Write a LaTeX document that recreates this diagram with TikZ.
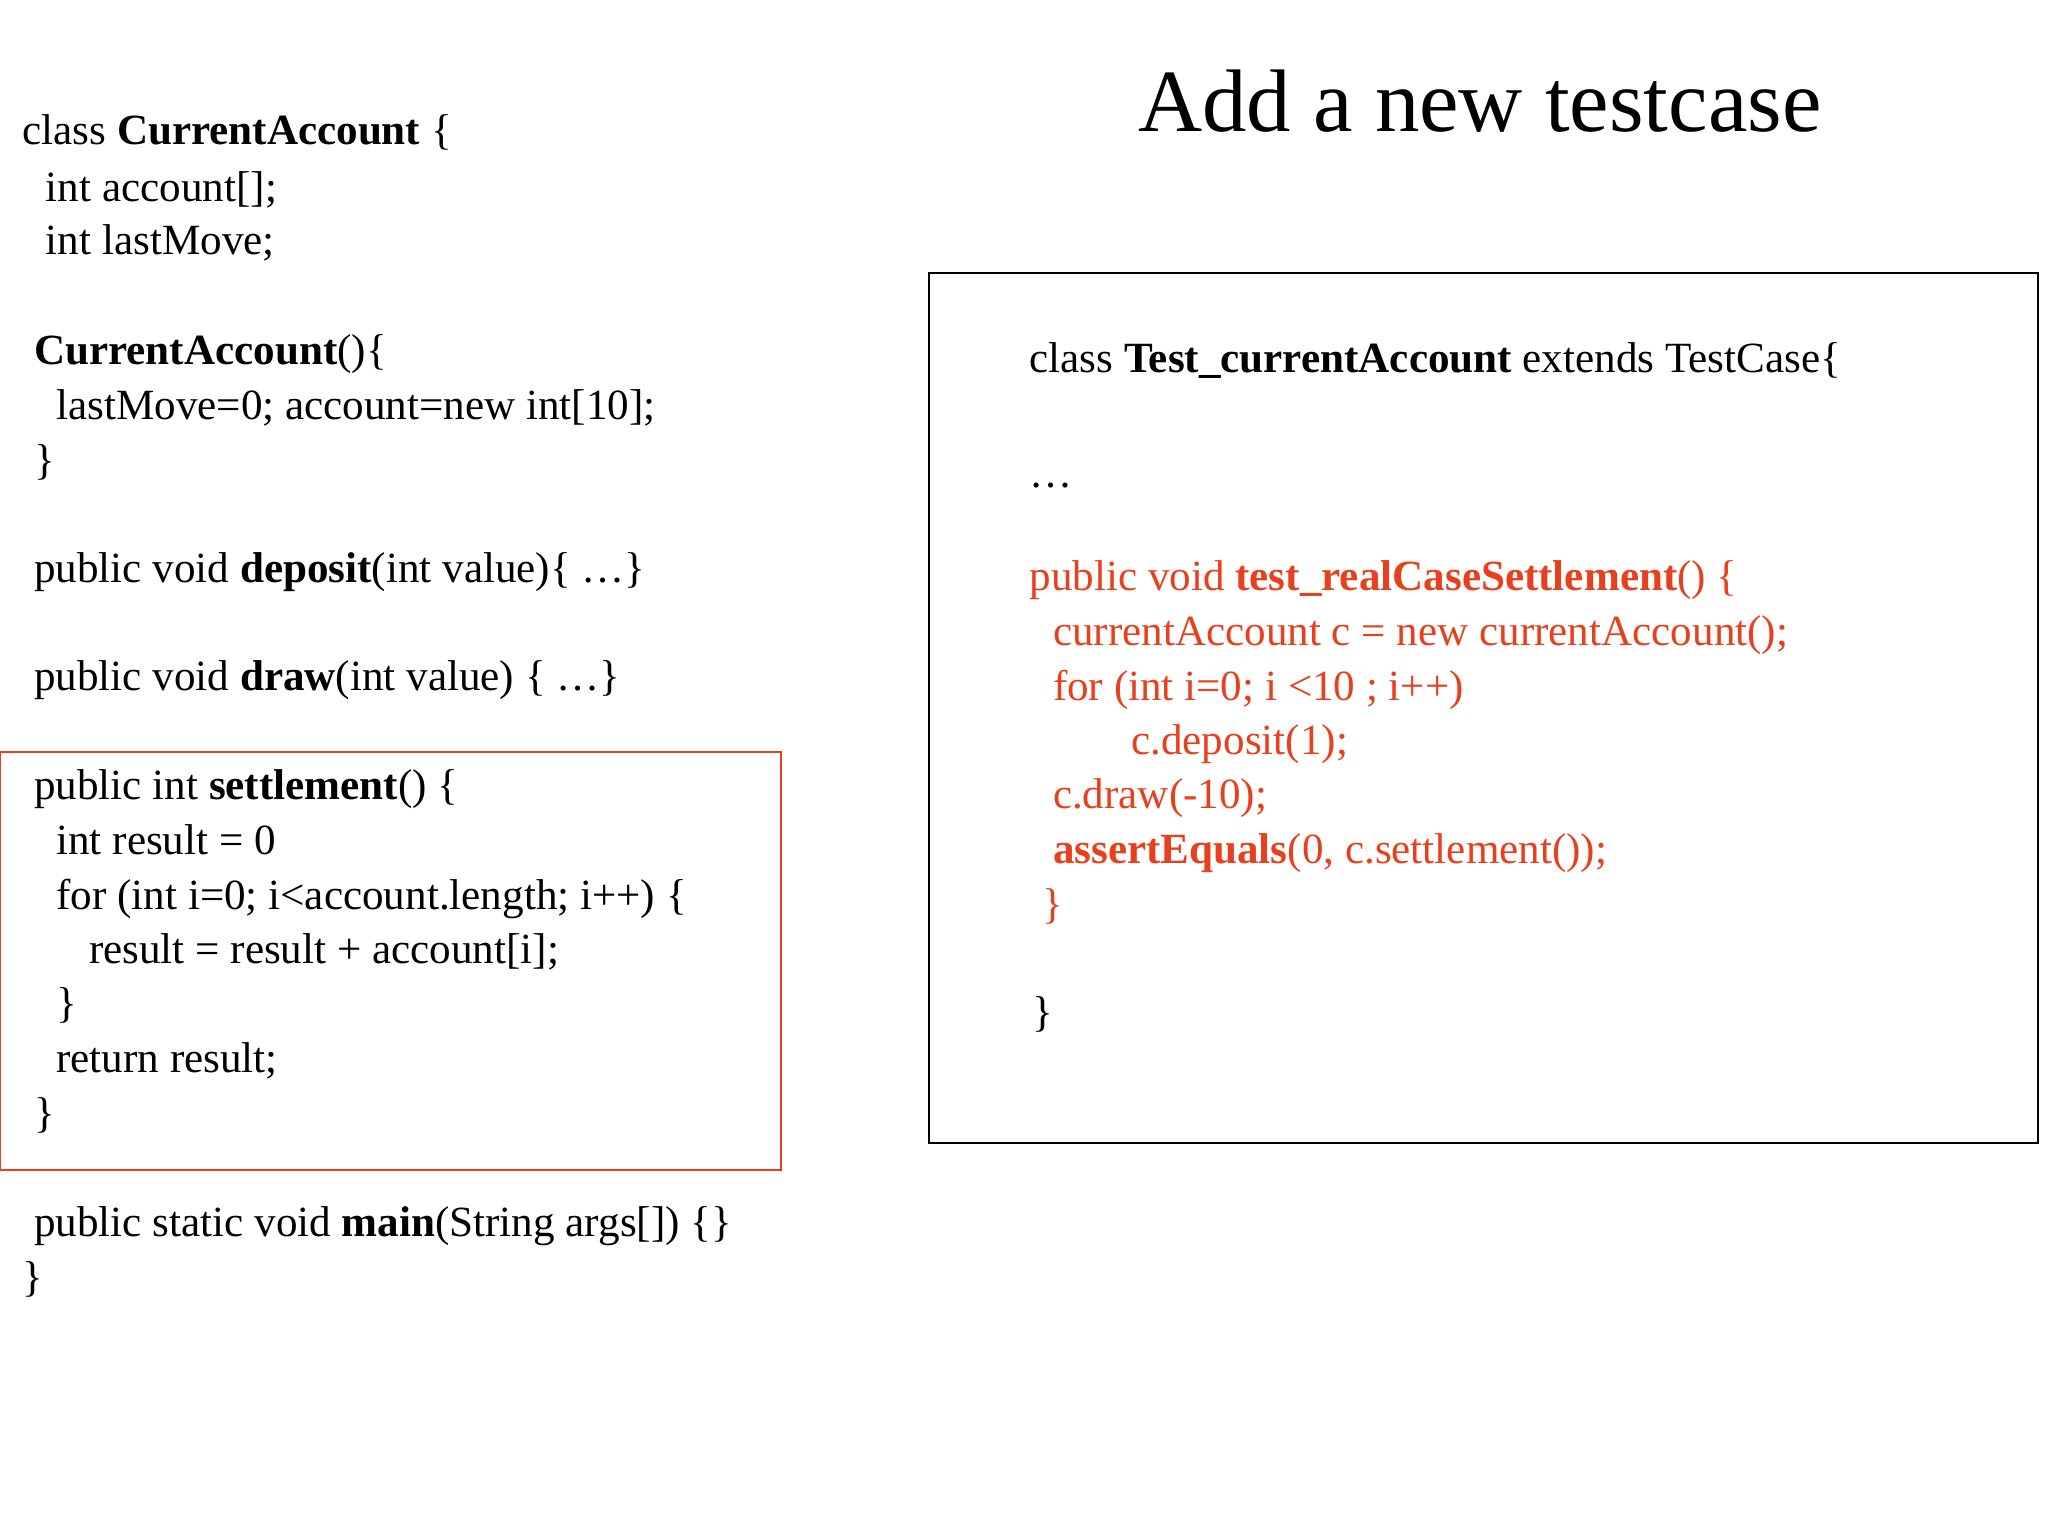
\documentclass[tikz,border=0pt]{standalone}
\usepackage{fontspec}
\setmainfont{Liberation Serif}
\definecolor{rd}{HTML}{E8401C}
\begin{document}
\begin{tikzpicture}[x=1pt,y=-1pt,
  code/.style={anchor=base west,inner sep=0pt,font=\fontsize{33}{40}\selectfont},
  rcode/.style={code,text=rd}]
\useasboundingbox (0,0) rectangle (1568,1176);
\node[anchor=base,inner sep=0pt,font=\fontsize{68}{80}\selectfont] (title) at (1133,101) {Add a new testcase};
\node[code] (l1) at (17,111) {class \textbf{CurrentAccount} \{};
\node[code] (l2) at (35,154) {int account[];};
\node[code] (l3) at (35,195) {int lastMove;};
\node[code] (l4) at (26,279) {\textbf{CurrentAccount}()\{};
\node[code] (l5) at (43,321) {lastMove=0; account=new int[10];};
\node[code] (l6) at (26,363) {\}};
\node[code] (l7) at (26,446) {public void \textbf{deposit}(int value)\{ …\}};
\node[code] (l8) at (26,529) {public void \textbf{draw}(int value) \{ …\}};
\node[code] (l9) at (26,612) {public int \textbf{settlement}() \{};
\node[code] (l10) at (43,654) {int result = 0};
\node[code] (l11) at (43,696) {for (int i=0; i<account.length; i++) \{};
\node[code] (l12) at (68,738) {result = result + account[i];};
\node[code] (l13) at (43,779) {\}};
\node[code] (l14) at (43,821) {return result;};
\node[code] (l15) at (26,863) {\}};
\node[code] (l16) at (26,947) {public static void \textbf{main}(String args[]) \{\}};
\node[code] (l17) at (17,989) {\}};
\draw[rd,line width=1.5pt] (0,576) rectangle (598,896);
\draw[line width=1.5pt] (711,209) rectangle (1560,875);
\node[code] (r1) at (788,285) {class \textbf{Test\_currentAccount} extends TestCase\{};
\node[code] (r2) at (788,373) {…};
\node[rcode] (r3) at (788,452) {public void \textbf{test\_realCaseSettlement}() \{};
\node[rcode] (r4) at (806,494) {currentAccount c = new currentAccount();};
\node[rcode] (r5) at (806,536) {for (int i=0; i <10 ; i++)};
\node[rcode] (r6) at (866,578) {c.deposit(1);};
\node[rcode] (r7) at (806,619) {c.draw(-10);};
\node[rcode] (r8) at (806,661) {\textbf{assertEquals}(0, c.settlement());};
\node[rcode] (r9) at (798,703) {\}};
\node[code] (r10) at (790,786) {\}};
\end{tikzpicture}
\end{document}
